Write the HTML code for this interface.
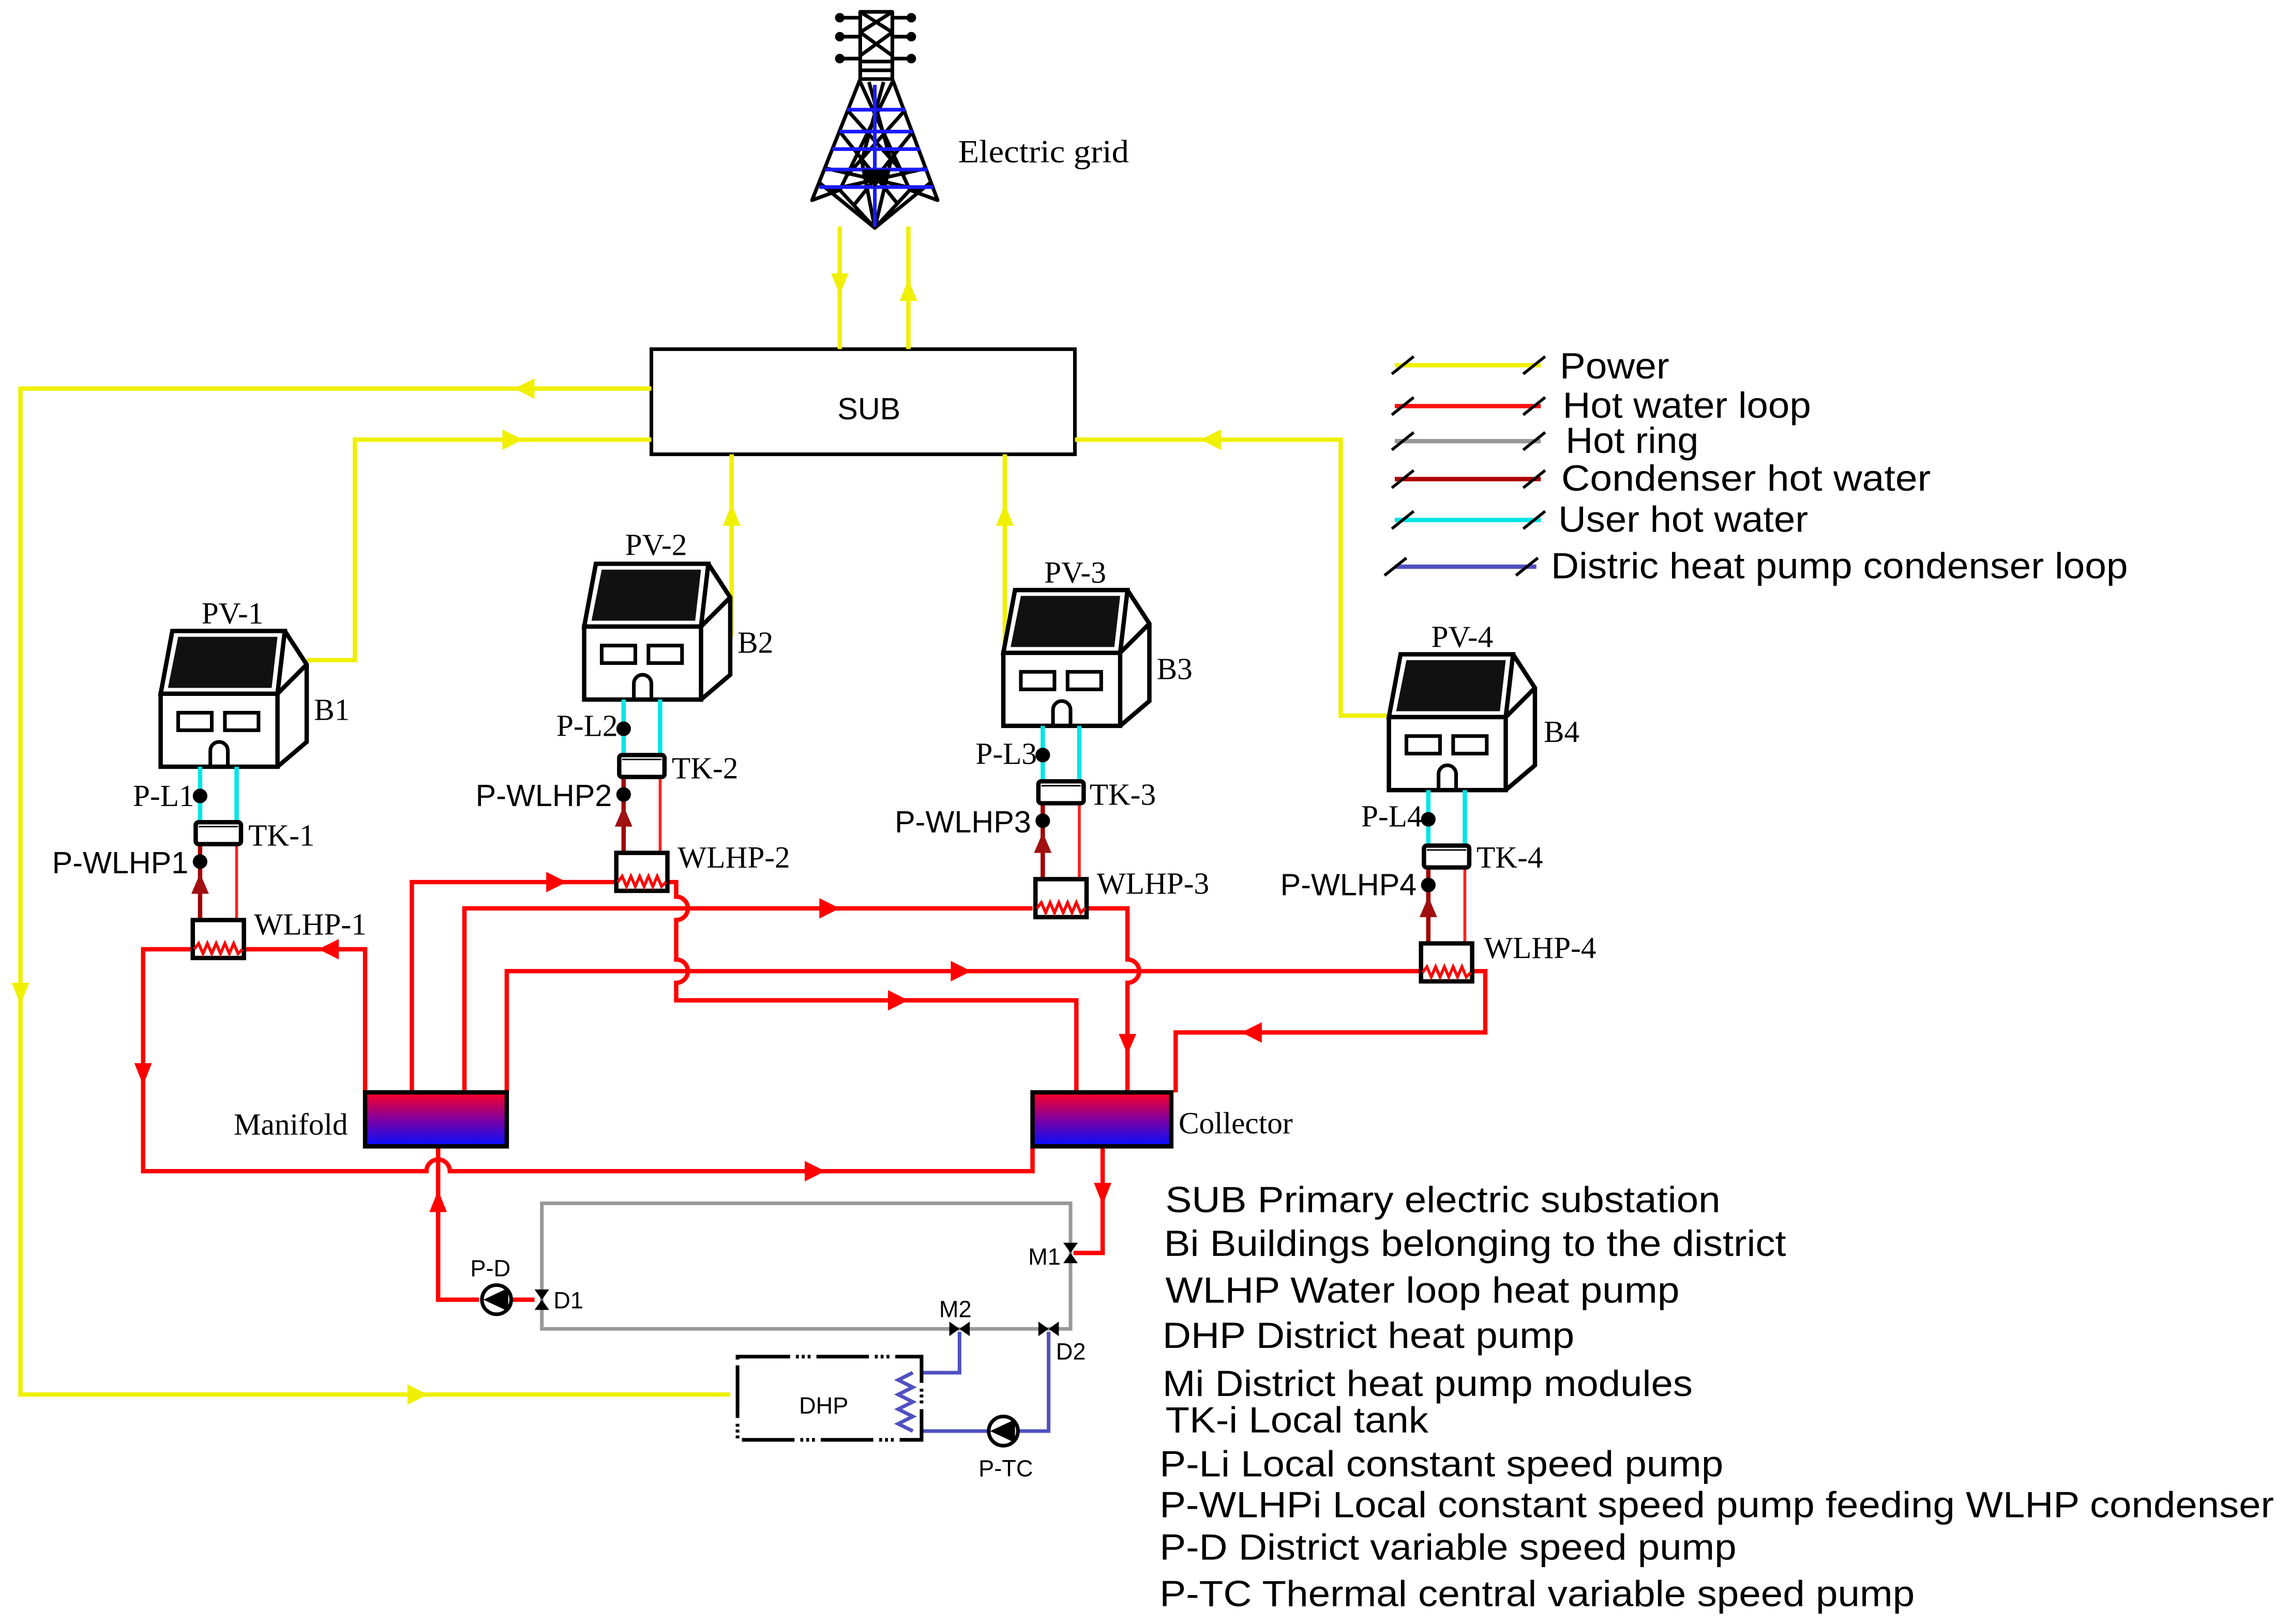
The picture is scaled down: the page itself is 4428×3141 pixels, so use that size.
<!DOCTYPE html>
<html><head><meta charset="utf-8"><style>html,body{margin:0;padding:0;background:#fff}svg{display:block}</style></head>
<body>
<svg xmlns="http://www.w3.org/2000/svg" width="4428" height="3141" viewBox="0 0 1568 1112">
<defs>
<linearGradient id="mg" x1="0" y1="0" x2="0" y2="1"><stop offset="0" stop-color="#ff0020"/><stop offset="0.5" stop-color="#8000a0"/><stop offset="1" stop-color="#0010ff"/></linearGradient>
<g id="house">
  <path d="M8,2 L85,2 L80,45 L0,45 Z" fill="#fff" stroke="#000" stroke-width="3"/>
  <path d="M12,6 L80,6 L76,41 L5,41 Z" fill="#111"/>
  <path d="M85,2 L100,25 L100,78 L80,95 M80,45 L100,25" fill="none" stroke="#000" stroke-width="3"/>
  <rect x="0" y="45" width="80" height="50" fill="#fff" stroke="#000" stroke-width="3"/>
  <rect x="12" y="58" width="23" height="12" fill="#fff" stroke="#000" stroke-width="2.5"/>
  <rect x="44" y="58" width="23" height="12" fill="#fff" stroke="#000" stroke-width="2.5"/>
  <path d="M34,95 V84 a6,6 0 0 1 12,0 V95" fill="none" stroke="#000" stroke-width="2.5"/>
</g>
<g id="bld">
  <use href="#house" x="110" y="430"/>
  <line x1="137" y1="525" x2="137" y2="563" stroke="#00e5e5" stroke-width="3"/>
  <line x1="162" y1="525" x2="162" y2="563" stroke="#00e5e5" stroke-width="3"/>
  <circle cx="137" cy="545" r="5" fill="#000"/>
  <line x1="137" y1="578" x2="137" y2="630" stroke="#a00000" stroke-width="3"/>
  <polygon points="137,598 131,612 143,612" fill="#a01010"/>
  <circle cx="137" cy="590" r="5" fill="#000"/>
  <line x1="162" y1="578" x2="162" y2="630" stroke="#ff2020" stroke-width="2"/>
  <rect x="134" y="563" width="31" height="15" rx="2" fill="#fff" stroke="#000" stroke-width="3"/>
  <line x1="136" y1="566" x2="163" y2="566" stroke="#000" stroke-width="1"/>
  <rect x="132" y="630" width="35" height="26" fill="#fff" stroke="#000" stroke-width="3"/>
  <polyline points="133,650 136,646 139,653 142,646 145,653 148,646 151,653 154,646 157,653 160,646 163,653 166,650" fill="none" stroke="#ff0000" stroke-width="2"/>
</g>
</defs>
<rect width="1568" height="1112" fill="#fff"/>

<!-- tower -->
<g stroke="#000" stroke-width="2.5" fill="none" stroke-linejoin="round">
  <rect x="589" y="8" width="22" height="46" fill="#fff"/>
  <path d="M589,8 L611,22 M611,8 L589,22 M589,22 L611,38 M611,22 L589,38 M589,42 H611 M589,48 H611"/>
  <path d="M575,12 H589 M611,12 H624 M575,25 H589 M611,25 H624 M575,40 H589 M611,40 H624"/>
  <circle cx="575" cy="12" r="2" fill="#000"/><circle cx="624" cy="12" r="2" fill="#000"/>
  <circle cx="575" cy="25" r="2" fill="#000"/><circle cx="624" cy="25" r="2" fill="#000"/>
  <circle cx="575" cy="40" r="2" fill="#000"/><circle cx="624" cy="40" r="2" fill="#000"/>
  <path d="M589,54 L556,137 L575,130 L599,156 L623,130 L642,137 L611,54"/>
  <path d="M589,56 L623,130 M611,56 L575,130 M595,56 L610,110 L599,156 M605,56 L590,110 L599,156 M565,115 L630,130 M635,115 L568,130 M575,90 L615,140 M625,90 L585,140 M580,75 L620,120 M620,75 L580,120 M561,125 L599,156 L637,125"/>
</g>
<g stroke="#1a1aff" stroke-width="2.5">
  <path d="M599,58 V155 M580,75 H620 M575,90 H625 M570,102 H630 M565,116 H635 M561,128 H639"/>
</g>
<polygon points="590,116 610,116 599,128" fill="#000"/>
<text x="656" y="111" font-family="Liberation Serif" font-size="22" textLength="117" lengthAdjust="spacingAndGlyphs">Electric grid</text>

<!-- SUB -->
<rect x="446" y="239" width="290" height="72" fill="#fff" stroke="#000" stroke-width="2.5"/>
<text x="595" y="287" text-anchor="middle" font-family="Liberation Sans" font-size="21">SUB</text>

<!-- yellow power -->
<g stroke="#f0f000" stroke-width="3" fill="none">
  <path d="M575,155 V239"/><path d="M622,239 V155"/>
  <path d="M446,266 H14 V955 H500"/>
  <path d="M210,452 H243 V301 H446"/>
  <path d="M501,436 V311"/><path d="M688,445 V311"/>
  <path d="M950,490 H918 V301 H736"/>
  <path d="M955,388 H1052"/>
</g>
<g fill="#f0f000">
  <polygon points="569,187 581,187 575,202"/>
  <polygon points="616,206 628,206 622,191"/>
  <polygon points="352,266 366,259 366,273"/>
  <polygon points="8,673 20,673 14,688"/>
  <polygon points="293,955 279,948 279,962"/>
  <polygon points="358,301 344,294 344,308"/>
  <polygon points="495,360 507,360 501,345"/>
  <polygon points="682,360 694,360 688,345"/>
  <polygon points="822,301 836,294 836,308"/>
</g>

<!-- legend -->
<g stroke-width="3" fill="none">
  <path d="M955,250 H1055" stroke="#f0f000"/>
  <path d="M955,278 H1055" stroke="#ff1010"/>
  <path d="M955,302 H1055" stroke="#999"/>
  <path d="M955,328 H1055" stroke="#b00000"/>
  <path d="M955,356 H1055" stroke="#00e5e5"/>
  <path d="M955,388 H1052" stroke="#5050c0"/>
</g>
<g stroke="#000" stroke-width="2">
  <path d="M953,256 L968,244 M1043,256 L1058,244"/>
  <path d="M953,284 L968,272 M1043,284 L1058,272"/>
  <path d="M953,308 L968,296 M1043,308 L1058,296"/>
  <path d="M953,334 L968,322 M1043,334 L1058,322"/>
  <path d="M953,362 L968,350 M1043,362 L1058,350"/>
  <path d="M948,394 L963,382 M1038,394 L1053,382"/>
</g>
<g font-family="Liberation Sans" font-size="25">
  <text x="1068" y="259" textLength="75" lengthAdjust="spacingAndGlyphs">Power</text>
  <text x="1070" y="286" textLength="170" lengthAdjust="spacingAndGlyphs">Hot water loop</text>
  <text x="1072" y="310" textLength="91" lengthAdjust="spacingAndGlyphs">Hot ring</text>
  <text x="1069" y="336" textLength="253" lengthAdjust="spacingAndGlyphs">Condenser  hot water</text>
  <text x="1067" y="364" textLength="171" lengthAdjust="spacingAndGlyphs">User hot water</text>
  <text x="1062" y="396" textLength="395" lengthAdjust="spacingAndGlyphs">Distric heat pump condenser loop</text>
</g>

<!-- red loops -->
<g stroke="#ff0000" stroke-width="3" fill="none">
  <path d="M250,748 V650 H167"/>
  <path d="M132,650 H98 V802 H292 a8,8 0 0 1 16,0 H707 V785"/>
  <path d="M282,748 V604 H422"/>
  <path d="M457,604 H463 V614 a8,8 0 0 1 0,16 V657 a8,8 0 0 1 0,16 V685 H737 V748"/>
  <path d="M318,748 V622 H707"/>
  <path d="M742,622 H772 V657 a8,8 0 0 1 0,16 V748"/>
  <path d="M347,748 V665 H973"/>
  <path d="M1008,665 H1017 V707 H805 V748"/>
  <path d="M755,785 V858 H735"/>
  <path d="M328,890 H300 V785"/>
  <path d="M350,890 H366"/>
</g>
<g fill="#ff0000">
  <polygon points="218,650 232,643 232,657"/>
  <polygon points="92,728 104,728 98,743"/>
  <polygon points="565,802 551,795 551,809"/>
  <polygon points="388,604 374,597 374,611"/>
  <polygon points="575,622 561,615 561,629"/>
  <polygon points="665,665 651,658 651,672"/>
  <polygon points="622,685 608,678 608,692"/>
  <polygon points="766,708 778,708 772,722"/>
  <polygon points="850,707 864,700 864,714"/>
  <polygon points="749,810 761,810 755,825"/>
  <polygon points="294,830 306,830 300,815"/>
</g>

<!-- manifold / collector -->
<rect x="250" y="748" width="97" height="37" fill="url(#mg)" stroke="#000" stroke-width="3"/>
<rect x="707" y="748" width="95" height="37" fill="url(#mg)" stroke="#000" stroke-width="3"/>
<text x="160" y="777" font-family="Liberation Serif" font-size="21">Manifold</text>
<text x="807" y="776" font-family="Liberation Serif" font-size="21">Collector</text>

<!-- buildings -->
<use href="#bld"/>
<use href="#bld" transform="translate(290,-46)"/>
<use href="#bld" transform="translate(577,-28)"/>
<use href="#bld" transform="translate(841,16)"/>
<g font-family="Liberation Serif" font-size="21">
  <text x="138" y="427">PV-1</text><text x="428" y="380">PV-2</text><text x="715" y="399">PV-3</text><text x="980" y="443">PV-4</text>
  <text x="215" y="493">B1</text><text x="505" y="447">B2</text><text x="792" y="465">B3</text><text x="1057" y="508">B4</text>
  <g text-anchor="end"><text x="133" y="552">P-L1</text><text x="423" y="504">P-L2</text><text x="710" y="523">P-L3</text><text x="974" y="566">P-L4</text></g>
  <text x="170" y="579">TK-1</text><text x="460" y="533">TK-2</text><text x="746" y="551">TK-3</text><text x="1011" y="594">TK-4</text>
  <text x="174" y="640">WLHP-1</text><text x="464" y="594">WLHP-2</text><text x="751" y="612">WLHP-3</text><text x="1016" y="656">WLHP-4</text>
</g>
<g font-family="Liberation Sans" font-size="21" text-anchor="end">
  <text x="129" y="598">P-WLHP1</text><text x="419" y="552">P-WLHP2</text><text x="706" y="570">P-WLHP3</text><text x="970" y="613">P-WLHP4</text>
</g>

<!-- hot ring -->
<rect x="371" y="824" width="362" height="86" fill="none" stroke="#999" stroke-width="2.5"/>
<!-- blue DHP loop -->
<g stroke="#5050c0" stroke-width="2.5" fill="none">
  <path d="M631,940 H657 V912"/>
  <path d="M631,980 H718 V912"/>
  <polyline points="625,940 615,945 625,950 615,955 625,960 615,965 625,970 615,975 625,980"/>
</g>
<!-- DHP box -->
<g stroke="#000" stroke-width="2.5" fill="none">
  <path d="M505,929 H631 V986 H505 Z" stroke-dasharray="36,4,2,2,2,2,2,4"/>
</g>
<text x="564" y="968" text-anchor="middle" font-family="Liberation Sans" font-size="16">DHP</text>
<!-- pumps -->
<circle cx="340" cy="890" r="10" fill="#fff" stroke="#000" stroke-width="2.5"/>
<polygon points="331,890 348,882 348,898" fill="#000"/>
<circle cx="687" cy="980" r="10" fill="#fff" stroke="#000" stroke-width="2.5"/>
<polygon points="678,980 695,972 695,988" fill="#000"/>
<!-- valves -->
<g fill="#000">
  <polygon points="366,883 376,883 371,890 376,897 366,897 371,890"/>
  <polygon points="728,851 738,851 733,858 738,865 728,865 733,858"/>
  <polygon points="650,905 650,915 657,910 664,905 664,915 657,910"/>
  <polygon points="711,905 711,915 718,910 725,905 725,915 718,910"/>
</g>
<g font-family="Liberation Sans" font-size="16">
  <text x="322" y="874">P-D</text><text x="379" y="896">D1</text>
  <text x="704" y="866">M1</text><text x="643" y="902">M2</text>
  <text x="723" y="931">D2</text><text x="670" y="1011">P-TC</text>
</g>

<!-- notes -->
<g font-family="Liberation Sans" font-size="25">
  <text x="798" y="830" textLength="380" lengthAdjust="spacingAndGlyphs">SUB Primary electric substation</text>
  <text x="797" y="860" textLength="426" lengthAdjust="spacingAndGlyphs">Bi Buildings belonging to the district</text>
  <text x="798" y="892" textLength="352" lengthAdjust="spacingAndGlyphs">WLHP Water loop heat pump</text>
  <text x="796" y="923" textLength="282" lengthAdjust="spacingAndGlyphs">DHP District heat pump</text>
  <text x="796" y="956" textLength="363" lengthAdjust="spacingAndGlyphs">Mi District heat pump modules</text>
  <text x="798" y="981" textLength="180" lengthAdjust="spacingAndGlyphs">TK-i Local tank</text>
  <text x="794" y="1011" textLength="386" lengthAdjust="spacingAndGlyphs">P-Li Local constant speed pump</text>
  <text x="794" y="1039" textLength="763" lengthAdjust="spacingAndGlyphs">P-WLHPi Local constant speed pump feeding WLHP condenser</text>
  <text x="794" y="1068" textLength="395" lengthAdjust="spacingAndGlyphs">P-D District variable speed pump</text>
  <text x="794" y="1100" textLength="517" lengthAdjust="spacingAndGlyphs">P-TC Thermal central variable speed pump</text>
</g>
</svg>
</body></html>
